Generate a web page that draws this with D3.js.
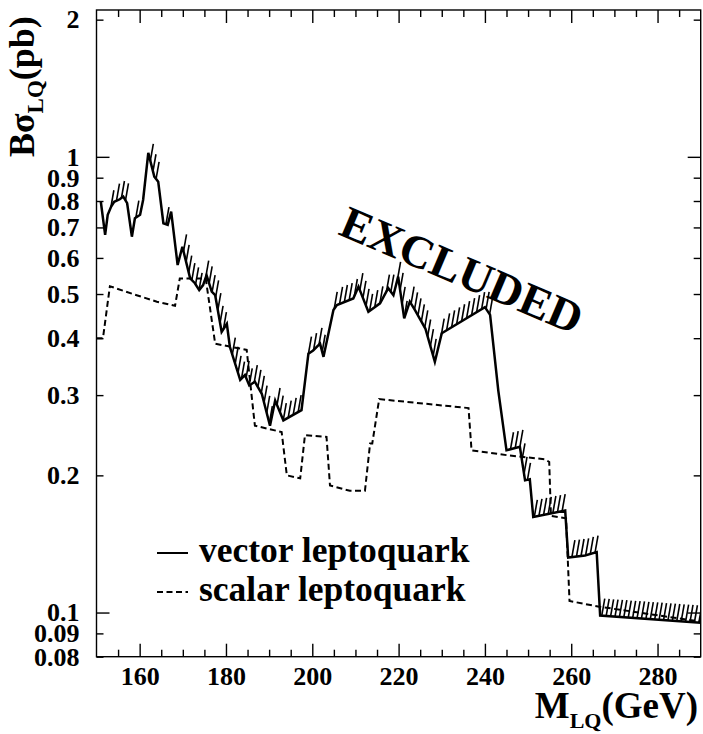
<!DOCTYPE html>
<html><head><meta charset="utf-8">
<script src="https://cdn.jsdelivr.net/npm/d3@7"></script>
<style>
body{margin:0;background:#fff}
svg{display:block}
text{font-family:"Liberation Serif","Times New Roman",serif;font-weight:bold;fill:#000}
</style>
</head><body>
<svg id="chart" width="703" height="734"></svg>
<script>
// ---- data ----
const vectorMass = [151.0,152.0,152.6,153.4,154.1,155.4,156.2,157.1,158.2,158.9,160.1,160.8,162.0,163.4,164.3,165.5,166.5,167.3,168.8,169.9,171.7,172.8,173.8,174.7,175.5,176.7,177.5,179.0,180.2,180.9,183.3,184.4,185.4,186.7,188.3,190.2,191.4,193.3,197.5,199.1,200.2,201.8,202.6,204.9,205.7,209.5,210.7,213.0,215.7,217.6,218.8,219.9,221.3,222.6,223.8,225.0,226.2,228.4,230.0,240.0,241.2,243.1,245.0,248.1,249.3,250.4,251.2,258.6,259.3,263.2,265.9,266.7,290.0];
const vectorXsec = [0.797,0.674,0.746,0.778,0.797,0.807,0.818,0.791,0.668,0.733,0.746,0.804,1.02,0.905,0.882,0.715,0.709,0.758,0.579,0.635,0.541,0.528,0.510,0.523,0.550,0.506,0.497,0.413,0.430,0.383,0.324,0.332,0.315,0.321,0.302,0.257,0.292,0.264,0.278,0.370,0.376,0.389,0.364,0.461,0.473,0.489,0.519,0.457,0.477,0.515,0.497,0.546,0.442,0.481,0.461,0.440,0.420,0.355,0.410,0.468,0.450,0.307,0.227,0.231,0.195,0.196,0.162,0.1675,0.132,0.1334,0.1357,0.0985,0.095];
const scalarMass = [150,151.5,153.1,159.3,164.0,168.2,169.3,175.3,177.5,184.8,186.7,192.9,194.1,197.2,198.3,203.3,204.1,208.7,212.2,213.4,213.9,215.5,236.2,236.9,245.8,253.9,254.9,255.3,258.8,259.6,266.5,290];
const scalarXsec = [0.40,0.40,0.52,0.497,0.481,0.471,0.541,0.541,0.389,0.377,0.257,0.249,0.200,0.197,0.245,0.243,0.190,0.185,0.185,0.235,0.235,0.294,0.281,0.227,0.221,0.217,0.214,0.163,0.161,0.106,0.103,0.0955];
const xMajorTicks = [160,180,200,220,240,260,280];
const xMinorTicks = [155,165,170,175,185,190,195,205,210,215,225,230,235,245,250,255,265,270,275,285];
const yMajorTicks = [0.1,1];
const yMinorTicks = [0.08,0.09,0.2,0.3,0.4,0.5,0.6,0.7,0.8,0.9,2];
const yTickValues = [0.08,0.09,0.1,0.2,0.3,0.4,0.5,0.6,0.7,0.8,0.9,1,2];
const yTickLabels = ["0.08","0.09","0.1","0.2","0.3","0.4","0.5","0.6","0.7","0.8","0.9","1","2"];
const legendLabels = ["vector leptoquark","scalar leptoquark"];
const regionLabel = "EXCLUDED";

// ---- layout ----
const L = 96.5, R = 700.7, T = 10, B = 656.7;
const svg = d3.select("#chart");
const x = d3.scaleLinear().domain([150,290]).range([L,R]);
const y = d3.scaleLog().domain([0.08,2.1]).range([B,T]);

// frame
svg.append("rect").attr("x",L).attr("y",T).attr("width",R-L).attr("height",B-T)
  .attr("fill","none").attr("stroke","#000").attr("stroke-width",1.4);

function axisGroup(axis, tx, ty){
  const g = svg.append("g").attr("transform",`translate(${tx},${ty})`).call(axis);
  g.select(".domain").remove();
  g.selectAll("line").attr("stroke","#000").attr("stroke-width",1.4);
  return g;
}
// x axes (bottom + top)
axisGroup(d3.axisBottom(x).tickValues(xMinorTicks).tickSize(-7).tickFormat(""),0,B);
const xb = axisGroup(d3.axisBottom(x).tickValues(xMajorTicks).tickSize(-13).tickPadding(10).tickFormat(d3.format("d")),0,B);
xb.selectAll("text").attr("font-size",26).style("font-family",'"Liberation Serif",serif').style("font-weight","bold");
axisGroup(d3.axisTop(x).tickValues(xMinorTicks).tickSize(-7).tickFormat(""),0,T);
axisGroup(d3.axisTop(x).tickValues(xMajorTicks).tickSize(-13).tickFormat(""),0,T);
// y axes (left + right)
axisGroup(d3.axisLeft(y).tickValues(yMinorTicks).tickSize(-7).tickFormat(""),L,0);
axisGroup(d3.axisLeft(y).tickValues(yMajorTicks).tickSize(-13).tickFormat(""),L,0);
axisGroup(d3.axisRight(y).tickValues(yMinorTicks).tickSize(-7).tickFormat(""),R,0);
axisGroup(d3.axisRight(y).tickValues(yMajorTicks).tickSize(-13).tickFormat(""),R,0);
const yl = axisGroup(d3.axisLeft(y).tickValues(yTickValues).tickSize(0).tickPadding(17)
  .tickFormat((d,i)=>yTickLabels[i]),L,0);
yl.selectAll("text").attr("font-size",26).style("font-family",'"Liberation Serif",serif').style("font-weight","bold");

// axis titles
const xt = svg.append("text").attr("x",698).attr("y",718).attr("text-anchor","end");
xt.append("tspan").attr("font-size",37).text("M");
xt.append("tspan").attr("font-size",22).attr("dy",10).text("LQ");
xt.append("tspan").attr("font-size",37).attr("dy",-10).text("(GeV)");

const yt = svg.append("text").attr("transform","translate(34,157) rotate(-90)").attr("text-anchor","start");
yt.append("tspan").attr("font-size",36).text("B");
yt.append("tspan").attr("font-size",36).text("σ");
yt.append("tspan").attr("font-size",23).attr("dy",9).text("LQ");
yt.append("tspan").attr("font-size",36).attr("dy",-9).text("(pb)");

// curves
const clip = svg.append("clipPath").attr("id","pc").append("rect")
  .attr("x",L).attr("y",T).attr("width",R-L).attr("height",B-T);
const plot = svg.append("g").attr("clip-path","url(#pc)");
const line = d3.line().x(d=>x(d[0])).y(d=>y(d[1]));

const vData = vectorMass.map((m,i)=>[m,vectorXsec[i]]);
const sData = scalarMass.map((m,i)=>[m,scalarXsec[i]]);

// hatches on the excluded (upper) side of the vector curve:
// a global family of parallel lines (like a fill pattern), cut where it meets the curve
const hx = 3, hy = -17, spacing = 4.4;
const hn = Math.hypot(hx,hy), nx = -hy/hn, ny = hx/hn; // normal to hatch direction
const pts = vData.map(d=>[x(d[0]),y(d[1])]);
const hat = [];
for (let i=0;i<pts.length-1;i++){
  const [x0,y0]=pts[i],[x1,y1]=pts[i+1];
  const dx=x1-x0, dy=y1-y0;
  if (!((dx*hy - dy*hx) < 0 && Math.abs(dy) < 7*Math.abs(dx))) continue;
  const u0 = x0*nx + y0*ny, u1 = x1*nx + y1*ny;
  const lo = Math.min(u0,u1), hi = Math.max(u0,u1);
  for (let k=Math.ceil(lo/spacing); k*spacing < hi; k++){
    const t = (k*spacing - u0)/(u1-u0);
    hat.push([x0+dx*t, y0+dy*t]);
  }
}
plot.append("g").selectAll("line").data(hat).join("line")
  .attr("x1",d=>d[0]).attr("y1",d=>d[1]).attr("x2",d=>d[0]+hx).attr("y2",d=>d[1]+hy)
  .attr("stroke","#000").attr("stroke-width",1.6);

plot.append("path").datum(vData).attr("d",line).attr("fill","none")
  .attr("stroke","#000").attr("stroke-width",2.5).attr("stroke-linejoin","miter");
plot.append("path").datum(sData).attr("d",line).attr("fill","none")
  .attr("stroke","#000").attr("stroke-width",2).attr("stroke-dasharray","6,3.5");

// legend
const lg = svg.append("g");
[[553,null],[592,"6,3.5"]].forEach((s,i)=>{
  lg.append("line").attr("x1",157).attr("x2",188).attr("y1",s[0]).attr("y2",s[0])
    .attr("stroke","#000").attr("stroke-width",2).attr("stroke-dasharray",s[1]);
  lg.append("text").attr("x",199).attr("y",s[0]+9).attr("font-size",35.5).text(legendLabels[i]);
});

// excluded label
svg.append("text").attr("transform","translate(337,234) rotate(23)").attr("font-size",46).text(regionLabel);
</script>
</body></html>
